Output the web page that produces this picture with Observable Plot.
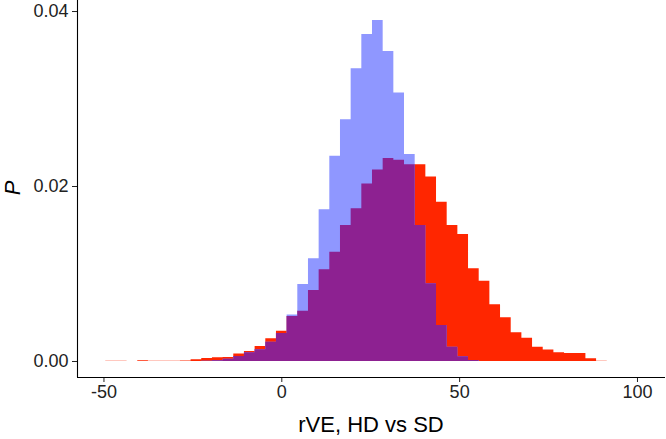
<!DOCTYPE html>
<html>
<head>
<meta charset="utf-8">
<script src="https://cdn.jsdelivr.net/npm/d3@7"></script>
<script src="https://cdn.jsdelivr.net/npm/@observablehq/plot@0.6"></script>
<style>
  html, body { margin: 0; padding: 0; background: #fff; }
  #chart svg { display: block; }
</style>
</head>
<body>
<div id="chart"></div>
<script>
// Bin edges (width 3) of the two histograms
const binEdges = [-49.5, -46.5, -43.5, -40.5, -37.5, -34.5, -31.5, -28.5, -25.5, -22.5,
  -19.5, -16.5, -13.5, -10.5, -7.5, -4.5, -1.5, 1.5, 4.5, 7.5,
  10.5, 13.5, 16.5, 19.5, 22.5, 25.5, 28.5, 31.5, 34.5, 37.5,
  40.5, 43.5, 46.5, 49.5, 52.5, 55.5, 58.5, 61.5, 64.5, 67.5,
  70.5, 73.5, 76.5, 79.5, 82.5, 85.5, 88.5, 91.5];

// Red (wide) distribution, density per bin
const redDensity = [0.00003, 0.00003, 0, 0.00008, 0.00004, 0.00004, 0.00004, 0.00006, 0.00019, 0.00034,
  0.00042, 0.00045, 0.00085, 0.00114, 0.0017, 0.0026, 0.00345, 0.00514, 0.00575, 0.00811,
  0.01048, 0.0125, 0.01554, 0.01745, 0.0203, 0.0219, 0.0232, 0.0230, 0.0225, 0.0225,
  0.0211, 0.0182, 0.01554, 0.01451, 0.0106, 0.00918, 0.00648, 0.0050, 0.00328, 0.00267,
  0.00164, 0.0013, 0.0010, 0.0009, 0.0009, 0.0003, 0.00004];

// Blue (narrow) distribution, density per bin
const blueDensity = [0, 0, 0, 0, 0, 0, 0, 0, 0, 0.00003,
  0.00008, 0.00025, 0.00058, 0.0010, 0.00133, 0.0022, 0.0032, 0.0053, 0.0088, 0.01173,
  0.01733, 0.02346, 0.02762, 0.03345, 0.03737, 0.03897, 0.03543, 0.0307, 0.02366, 0.01554,
  0.00888, 0.0041, 0.00164, 0.00055, 0.0001, 0, 0, 0, 0, 0,
  0, 0, 0, 0, 0, 0, 0];

const xTicks = [-50, 0, 50, 100];
const yTicks = [0, 0.02, 0.04];
const xLabel = "rVE, HD vs SD";
const yLabel = "P";

const rows = binEdges.map((x, i) => {
  const j = Math.min(i, redDensity.length - 1);
  return {x, red: redDensity[j], blue: blueDensity[j], both: Math.min(redDensity[j], blueDensity[j])};
});

const xDomain = [-57.44, 107.88];
const yDomain = [-0.00183, 0.04126];

const svg = Plot.plot({
  width: 666,
  height: 439,
  marginLeft: 77,
  marginRight: 1,
  marginTop: 0,
  marginBottom: 62,
  style: {fontFamily: "'Liberation Sans', Arial, sans-serif", background: "white", color: "black"},
  x: {domain: xDomain},
  y: {domain: yDomain},
  marks: [
    Plot.areaY(rows, {x: "x", y: "red", curve: "step-after", fill: "#FF2600"}),
    Plot.areaY(rows, {x: "x", y: "blue", curve: "step-after", fill: "#8F97FF"}),
    Plot.areaY(rows, {x: "x", y: "both", curve: "step-after", fill: "#8D2191"}),
    Plot.axisX({ticks: xTicks, tickFormat: d => String(d), tickSize: 5, tickPadding: 3, fontSize: 18, color: "#222", label: null}),
    Plot.axisY({ticks: yTicks, tickFormat: d3.format(".2f"), tickSize: 5, tickPadding: 4, fontSize: 18, color: "#222", label: null}),
    Plot.ruleX([xDomain[0]], {stroke: "black", strokeWidth: 1.1}),
    Plot.ruleY([yDomain[0]], {stroke: "black", strokeWidth: 1.1})
  ]
});

const s = d3.select(svg);
s.append("text")
  .attr("x", 371).attr("y", 432)
  .attr("text-anchor", "middle")
  .attr("font-size", 22)
  .attr("fill", "black")
  .text(xLabel);
s.append("text")
  .attr("transform", "translate(20,188) rotate(-90)")
  .attr("text-anchor", "middle")
  .attr("font-size", 22)
  .attr("font-style", "italic")
  .attr("fill", "black")
  .text(yLabel);

document.getElementById("chart").appendChild(svg);
</script>
</body>
</html>
